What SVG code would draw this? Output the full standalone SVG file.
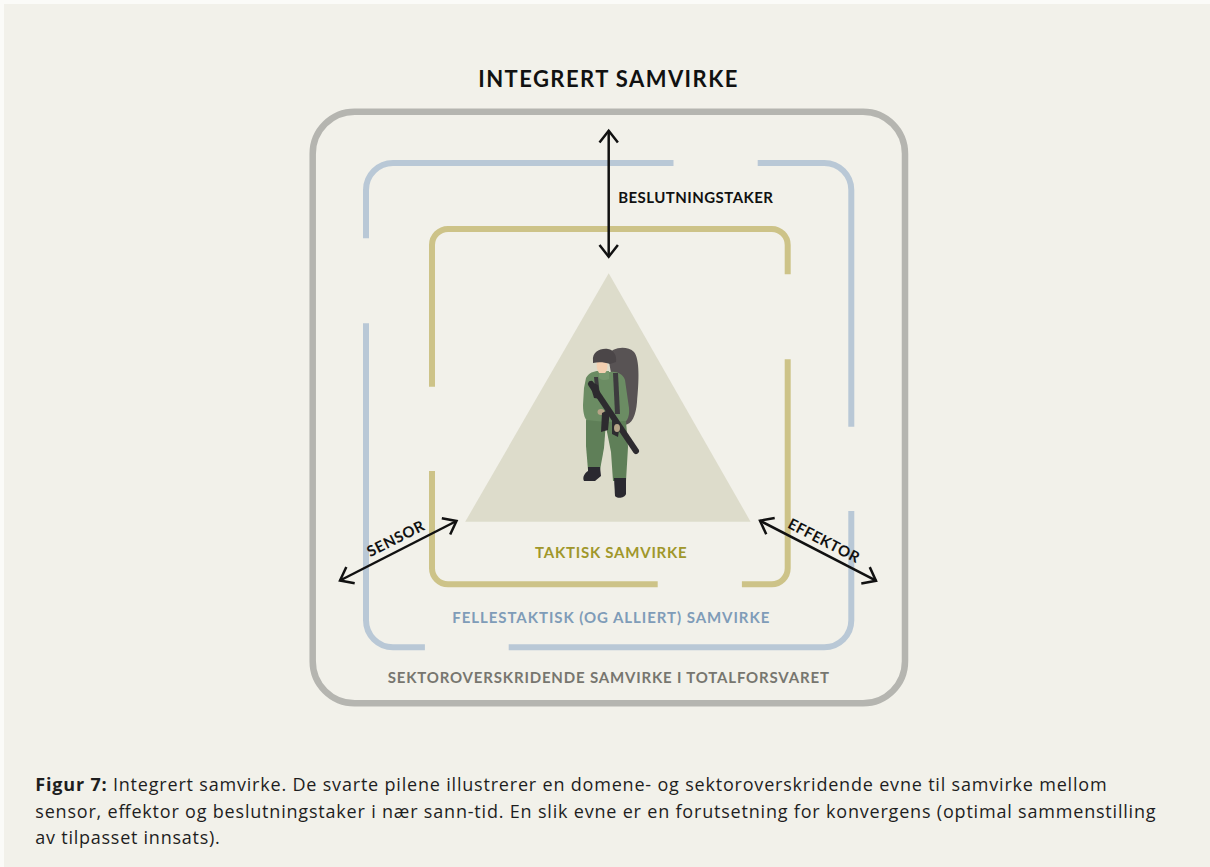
<svg xmlns="http://www.w3.org/2000/svg" width="1210" height="867" viewBox="0 0 1210 867">
<style>
.frame{fill:none;stroke-linecap:butt}
.outer{stroke:#b5b5b0;stroke-width:6.5}
.blue{stroke:#b9c8d6;stroke-width:6}
.khaki{stroke:#cdc388;stroke-width:6}
.lbl{font-family:Lato,"Liberation Sans",sans-serif;font-weight:700;font-size:15px}
.arrow{fill:none;stroke:#111;stroke-width:2.5}
.cap{font-family:"Open Sans","Liberation Sans",sans-serif;font-size:18px;fill:#1e1e1e}
</style>
<defs>
<marker id="chev" viewBox="-16 -14 20 28" markerWidth="20" markerHeight="28" refX="0" refY="0" orient="auto-start-reverse" markerUnits="userSpaceOnUse">
<path d="M-11.8,-9.2 L0,0 L-11.8,9.2" fill="none" stroke="#111" stroke-width="2.5"/>
</marker>
</defs>
<rect x="0" y="0" width="1210" height="867" fill="#fbfbf8"/>
<rect x="4" y="4" width="1206" height="863" fill="#f2f1ea"/>

<g id="title">
<text class="lbl" x="478.3" y="86.7" style="font-size:22px" fill="#111" textLength="259" lengthAdjust="spacing">INTEGRERT SAMVIRKE</text>
</g>

<g id="frame-sektor">
<rect class="frame outer" x="312.7" y="111.7" width="592.3" height="591.6" rx="42" ry="42"/>
<text class="lbl" x="387.7" y="682.7" fill="#77766f" textLength="441.2" lengthAdjust="spacing">SEKTOROVERSKRIDENDE SAMVIRKE I TOTALFORSVARET</text>
</g>

<g id="frame-fellestaktisk">
<path class="frame blue" d="M673.5,163 L393,163 A27,27 0 0 0 366,190 L366,238.3"/>
<path class="frame blue" d="M366,323.3 L366,620.3 A27,27 0 0 0 393,647.3 L424.9,647.3"/>
<path class="frame blue" d="M508.7,647.3 L824.3,647.3 A27,27 0 0 0 851.3,620.3 L851.3,511"/>
<path class="frame blue" d="M851.3,426.7 L851.3,190 A27,27 0 0 0 824.3,163 L757.7,163"/>
<text class="lbl" x="452.3" y="623.3" fill="#7f9cb8" textLength="317" lengthAdjust="spacing">FELLESTAKTISK (OG ALLIERT) SAMVIRKE</text>
</g>

<g id="frame-taktisk">
<path class="frame khaki" d="M432,386.7 L432,245 A16,16 0 0 1 448,229 L771.7,229 A16,16 0 0 1 787.7,245 L787.7,274.3"/>
<path class="frame khaki" d="M787.7,359.3 L787.7,568.3 A16,16 0 0 1 771.7,584.3 L741.9,584.3"/>
<path class="frame khaki" d="M657.7,584.3 L448,584.3 A16,16 0 0 1 432,568.3 L432,471"/>
<text class="lbl" x="535" y="557.9" fill="#a0972a" textLength="151.7" lengthAdjust="spacing">TAKTISK SAMVIRKE</text>
</g>

<g id="soldier-node">
<polygon points="608.7,273.3 465.2,521.7 750.6,521.7" fill="#dddccb"/>
<g id="soldier">
<path d="M608,356 C611,347 627,345 634,352 C640,359 639,382 637,402 C636,415 632,425 624,425 L616,406 L611,373 Z" fill="#585354"/>
<path d="M586,378 C590,371 598,370 604,372 L610,372 C617,371 623,374 625,380 L629,408 C630,418 626,424 620,424 L590,423 C585,421 583,414 583,405 L584,388 Z" fill="#6b8c63"/>
<path d="M599,371 L609,371 L609,379 C605,381 601,380 599,378 Z" fill="#76966d"/>
<path d="M613,373 L618,373 L620,414 L615,414 Z" fill="#3d3b3e"/>
<path d="M594,377 L598,377 L600,397 L596,397 Z" fill="#3d3b3e"/>
<path d="M586,420 L606,422 L604,448 L600,470 L588,470 L586,446 Z" fill="#5f7f58"/>
<path d="M605,422 L626,421 L628,447 L626,481 L613,481 L611,452 Z" fill="#5f7f58"/>
<path d="M588,467 L600,467 L601,476 L595,481 L584,481 C582,477 585,473 588,471 Z" fill="#2a2930"/>
<path d="M614,478 L626,478 L626,494 C625,498 617,499 615,496 Z" fill="#2a2930"/>
<path d="M597,362 L607,362 C608,367 607,371 605,373 L599,373 C597,370 596,366 597,362 Z" fill="#f3cfb0"/>
<path d="M593,361 C592,352 600,348 608,349 C614,350 617,356 616,362 L610,364 C604,362 598,362 593,363 Z" fill="#4b4648"/>
<ellipse cx="601" cy="412" rx="3.5" ry="3" fill="#b6a487"/>
<line x1="591" y1="384" x2="636" y2="451" stroke="#2d2b2f" stroke-width="6" stroke-linecap="round"/>
<path d="M589,381 L598,385 L601,399 L594,398 Z" fill="#2d2b2f"/>
<path d="M602,413 L610,409 L608,430 L601,432 Z" fill="#2d2b2f"/>
<path d="M612,420 L620,424 L618,437 L612,434 Z" fill="#2d2b2f"/>
<ellipse cx="617" cy="428" rx="3" ry="4" fill="#b6a487"/>
</g>
</g>

<g id="labels-arrows">
<text class="lbl" x="618.2" y="202.7" fill="#111" textLength="154.8" lengthAdjust="spacing">BESLUTNINGSTAKER</text>
<text class="lbl" transform="translate(398,543.3) rotate(-26.8)" x="-31" y="0" fill="#111" textLength="62" lengthAdjust="spacing">SENSOR</text>
<text class="lbl" transform="translate(821.4,545.2) rotate(27.35)" x="-39" y="0" fill="#111" textLength="78" lengthAdjust="spacing">EFFEKTOR</text>
</g>

<g id="connectors">
<line class="arrow" x1="608.7" y1="130.7" x2="608.7" y2="256.7" marker-start="url(#chev)" marker-end="url(#chev)"/>
<line class="arrow" x1="340" y1="580.5" x2="456.5" y2="521" marker-start="url(#chev)" marker-end="url(#chev)"/>
<line class="arrow" x1="760" y1="520.7" x2="876" y2="580.7" marker-start="url(#chev)" marker-end="url(#chev)"/>
</g>

<g id="caption">
<text class="cap" x="35.3" y="791" textLength="1071.3" lengthAdjust="spacing"><tspan font-weight="700">Figur 7:</tspan> Integrert samvirke. De svarte pilene illustrerer en domene- og sektoroverskridende evne til samvirke mellom</text>
<text class="cap" x="35.3" y="817.5" textLength="1120.3" lengthAdjust="spacing">sensor, effektor og beslutningstaker i nær sann-tid. En slik evne er en forutsetning for konvergens (optimal sammenstilling</text>
<text class="cap" x="35.3" y="844" textLength="184.5" lengthAdjust="spacing">av tilpasset innsats).</text>
</g>
</svg>
